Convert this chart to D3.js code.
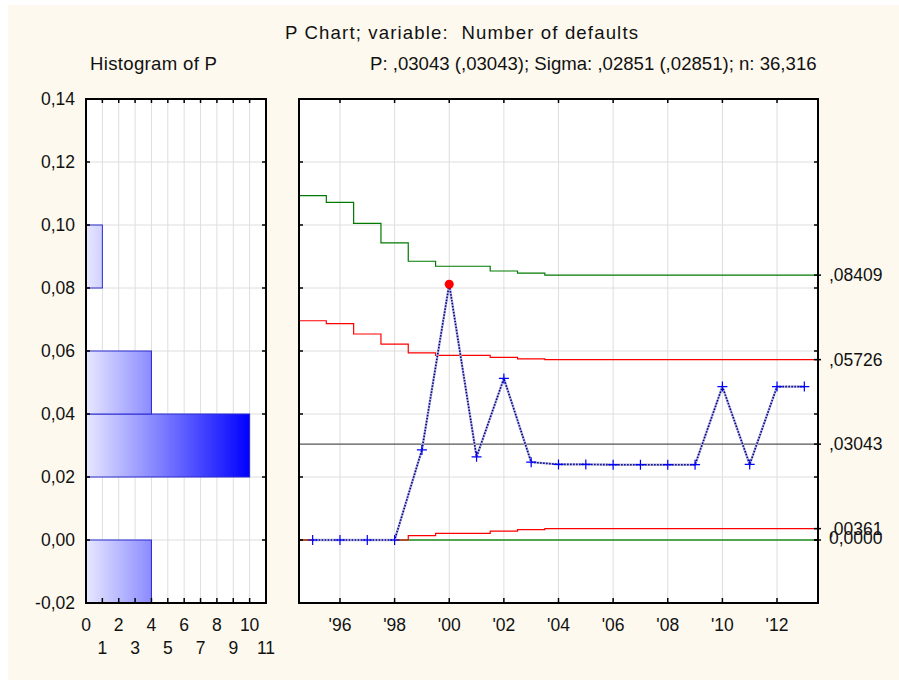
<!DOCTYPE html>
<html>
<head>
<meta charset="utf-8">
<script src="https://cdn.jsdelivr.net/npm/d3@7"></script>
<style>
  html, body { margin: 0; padding: 0; background: #fff; }
  svg { display: block; }
  text { font-family: "Liberation Sans", Arial, sans-serif; fill: #111; white-space: pre; }
</style>
</head>
<body>
<svg id="chart" width="899" height="680"></svg>
<script>
// data
const years = [1995, 1996, 1997, 1998, 1999, 2000, 2001, 2002, 2003, 2004,
  2005, 2006, 2007, 2008, 2009, 2010, 2011, 2012, 2013];
const pValues = [0, 0, 0, 0, 0.0286, 0.0812, 0.0264, 0.0513, 0.0247, 0.0240,
  0.0240, 0.0239, 0.0239, 0.0239, 0.0239, 0.0487, 0.0240, 0.0487, 0.0487];
const ucl3 = [0.1093, 0.1072, 0.1005, 0.0943, 0.0885, 0.0869, 0.0869, 0.0854, 0.0847, 0.08409,
  0.08409, 0.08409, 0.08409, 0.08409, 0.08409, 0.08409, 0.08409, 0.08409, 0.08409];
const ucl2 = [0.0696, 0.0687, 0.0654, 0.0622, 0.0594, 0.0586, 0.0586, 0.0580, 0.0575, 0.05726,
  0.05726, 0.05726, 0.05726, 0.05726, 0.05726, 0.05726, 0.05726, 0.05726, 0.05726];
const lcl2 = [0, 0, 0, 0, 0.0014, 0.0021, 0.0021, 0.0028, 0.0033, 0.00361,
  0.00361, 0.00361, 0.00361, 0.00361, 0.00361, 0.00361, 0.00361, 0.00361, 0.00361];
const lcl3 = [0, 0, 0, 0, 0, 0, 0, 0, 0, 0, 0, 0, 0, 0, 0, 0, 0, 0, 0];
const centerP = 0.03043;
const outOfControl = [2000];

const limitValues = [0.08409, 0.05726, 0.03043, 0.00361, 0];
const limitLabels = [",08409", ",05726", ",03043", ",00361", "0,0000"];

const histLow = [-0.02, 0.00, 0.02, 0.04, 0.06, 0.08];
const histHigh = [0.00, 0.02, 0.04, 0.06, 0.08, 0.10];
const histCounts = [4, 0, 10, 4, 0, 1];

const yTicks = [-0.02, 0, 0.02, 0.04, 0.06, 0.08, 0.10, 0.12, 0.14];
const histTicks = [0, 1, 2, 3, 4, 5, 6, 7, 8, 9, 10, 11];
const yearTicks = [1996, 1998, 2000, 2002, 2004, 2006, 2008, 2010, 2012];

const titleText = "P Chart; variable:  Number of defaults";
const histTitle = "Histogram of P";
const statsText = "P: ,03043 (,03043); Sigma: ,02851 (,02851); n: 36,316";

const svg = d3.select("#chart");
const fontTick = 17.5;
const fontHead = 18.6;

const hist = { left: 86, right: 266, top: 99, bottom: 603 };
const main = { left: 299, right: 818, top: 99, bottom: 603 };

const loc = d3.formatLocale({ decimal: ",", thousands: ".", grouping: [3], currency: ["", ""], minus: "-" });
const fmtY = loc.format(".2f");

svg.append("rect")
  .attr("x", 8).attr("y", 5)
  .attr("width", 891).attr("height", 675)
  .attr("fill", "#fdf9ee");

const y = d3.scaleLinear().domain([-0.02, 0.14]).range([hist.bottom, hist.top]);
const xh = d3.scaleLinear().domain([0, 11]).range([hist.left, hist.right]);
const x = d3.scaleLinear().domain([1994.5, 2013.5]).range([main.left, main.right]);

// titles
svg.append("text")
  .attr("x", 285).attr("y", 39)
  .attr("textLength", 353)
  .attr("lengthAdjust", "spacing")
  .style("font-size", fontHead + "px")
  .text(titleText);

svg.append("text")
  .attr("x", 90).attr("y", 70)
  .attr("textLength", 127)
  .attr("lengthAdjust", "spacing")
  .style("font-size", fontHead + "px")
  .text(histTitle);

svg.append("text")
  .attr("x", 370).attr("y", 70)
  .style("font-size", fontHead + "px")
  .text(statsText);

// ---------- histogram panel ----------
const gh = svg.append("g");

gh.append("rect")
  .attr("x", hist.left).attr("y", hist.top)
  .attr("width", hist.right - hist.left).attr("height", hist.bottom - hist.top)
  .attr("fill", "#fff");

gh.selectAll(".vgrid")
  .data(histTicks.filter(d => d > 0 && d < 11))
  .join("line")
  .attr("x1", d => xh(d)).attr("x2", d => xh(d))
  .attr("y1", hist.top).attr("y2", hist.bottom)
  .attr("stroke", "#dedede");

gh.selectAll(".hgrid")
  .data(yTicks.slice(1, -1))
  .join("line")
  .attr("x1", hist.left).attr("x2", hist.right)
  .attr("y1", d => y(d)).attr("y2", d => y(d))
  .attr("stroke", "#dedede");

const defs = svg.append("defs");
const grad = defs.append("linearGradient")
  .attr("id", "barGrad")
  .attr("gradientUnits", "userSpaceOnUse")
  .attr("x1", xh(0)).attr("x2", xh(d3.max(histCounts)))
  .attr("y1", 0).attr("y2", 0);
grad.append("stop").attr("offset", 0).attr("stop-color", "#e8e8ff");
grad.append("stop").attr("offset", 1).attr("stop-color", "#0000ff");

const bins = histLow.map((lo, i) => ({ lo, hi: histHigh[i], n: histCounts[i] }))
  .filter(d => d.n > 0);

gh.selectAll(".bar")
  .data(bins)
  .join("rect")
  .attr("x", xh(0))
  .attr("y", d => y(d.hi))
  .attr("width", d => xh(d.n) - xh(0))
  .attr("height", d => y(d.lo) - y(d.hi))
  .attr("fill", "url(#barGrad)")
  .attr("stroke", "#2a2ad0")
  .attr("stroke-width", 1);

// ticks
gh.selectAll(".tb")
  .data(histTicks)
  .join("line")
  .attr("x1", d => xh(d)).attr("x2", d => xh(d))
  .attr("y1", hist.bottom).attr("y2", hist.bottom - 5)
  .attr("stroke", "#000").attr("stroke-width", 1.5);

gh.selectAll(".tt")
  .data(histTicks)
  .join("line")
  .attr("x1", d => xh(d)).attr("x2", d => xh(d))
  .attr("y1", hist.top).attr("y2", hist.top + 4)
  .attr("stroke", "#000").attr("stroke-width", 1.5);

gh.selectAll(".tl")
  .data(yTicks)
  .join("line")
  .attr("x1", hist.left).attr("x2", hist.left + 4)
  .attr("y1", d => y(d)).attr("y2", d => y(d))
  .attr("stroke", "#000").attr("stroke-width", 1.5);

gh.selectAll(".tr")
  .data(yTicks)
  .join("line")
  .attr("x1", hist.right - 4).attr("x2", hist.right)
  .attr("y1", d => y(d)).attr("y2", d => y(d))
  .attr("stroke", "#000").attr("stroke-width", 1.5);

gh.append("rect")
  .attr("x", hist.left).attr("y", hist.top)
  .attr("width", hist.right - hist.left).attr("height", hist.bottom - hist.top)
  .attr("fill", "none")
  .attr("stroke", "#000").attr("stroke-width", 2);

gh.selectAll(".ylab")
  .data(yTicks)
  .join("text")
  .attr("x", hist.left - 11)
  .attr("y", d => y(d))
  .attr("dy", "0.35em")
  .attr("text-anchor", "end")
  .style("font-size", fontTick + "px")
  .text(d => fmtY(d));

gh.selectAll(".xlab")
  .data(histTicks)
  .join("text")
  .attr("x", d => xh(d))
  .attr("y", d => d % 2 === 0 ? 631 : 654)
  .attr("text-anchor", "middle")
  .style("font-size", fontTick + "px")
  .text(d => d);

// ---------- P chart panel ----------
const gm = svg.append("g");

defs.append("clipPath").attr("id", "mainClip")
  .append("rect")
  .attr("x", main.left).attr("y", main.top)
  .attr("width", main.right - main.left).attr("height", main.bottom - main.top);

gm.append("rect")
  .attr("x", main.left).attr("y", main.top)
  .attr("width", main.right - main.left).attr("height", main.bottom - main.top)
  .attr("fill", "#fff");

gm.selectAll(".vgrid")
  .data(yearTicks)
  .join("line")
  .attr("x1", d => x(d)).attr("x2", d => x(d))
  .attr("y1", main.top).attr("y2", main.bottom)
  .attr("stroke", "#dedede");

gm.selectAll(".hgrid")
  .data(yTicks.slice(1, -1))
  .join("line")
  .attr("x1", main.left).attr("x2", main.right)
  .attr("y1", d => y(d)).attr("y2", d => y(d))
  .attr("stroke", "#dedede");

const plot = gm.append("g").attr("clip-path", "url(#mainClip)");

// step lines for limits: each year's value holds from year-0.5 to year+0.5
const stepLine = d3.line()
  .x(d => x(d[0]))
  .y(d => y(d[1]))
  .curve(d3.curveStepAfter);

const stepPoints = vals => {
  const pts = years.map((yr, i) => [yr - 0.5, vals[i]]);
  pts.push([years[years.length - 1] + 0.5, vals[vals.length - 1]]);
  return pts;
};

plot.append("path")
  .attr("d", stepLine(stepPoints(lcl3)))
  .attr("fill", "none").attr("stroke", "#1e8c1e").attr("stroke-width", 1.4);

plot.append("path")
  .attr("d", stepLine(stepPoints(ucl3)))
  .attr("fill", "none").attr("stroke", "#007a00").attr("stroke-width", 1.2);

plot.append("path")
  .attr("d", stepLine(stepPoints(ucl2)))
  .attr("fill", "none").attr("stroke", "#ff0000").attr("stroke-width", 1.2);

plot.append("path")
  .attr("d", stepLine(stepPoints(lcl2)))
  .attr("fill", "none").attr("stroke", "#ff0000").attr("stroke-width", 1.2);

plot.append("line")
  .attr("x1", main.left).attr("x2", main.right)
  .attr("y1", y(centerP)).attr("y2", y(centerP))
  .attr("stroke", "#555").attr("stroke-width", 1.3);

// data series
const pts = years.map((yr, i) => ({ yr, p: pValues[i] }));
const dataLine = d3.line().x(d => x(d.yr)).y(d => y(d.p));

plot.append("path")
  .attr("d", dataLine(pts))
  .attr("fill", "none").attr("stroke", "#b4b4dc").attr("stroke-width", 2.4);

plot.append("path")
  .attr("d", dataLine(pts))
  .attr("fill", "none").attr("stroke", "#00008b").attr("stroke-width", 1.6)
  .attr("stroke-dasharray", "1.5,1.5");

const inCtrl = pts.filter(d => !outOfControl.includes(d.yr));
const outCtrl = pts.filter(d => outOfControl.includes(d.yr));

plot.selectAll(".plus")
  .data(inCtrl)
  .join("path")
  .attr("d", d => `M${x(d.yr) - 5},${y(d.p)}h10M${x(d.yr)},${y(d.p) - 5}v10`)
  .attr("stroke", "#0000ff").attr("stroke-width", 1.2).attr("fill", "none");

plot.selectAll(".dot")
  .data(outCtrl)
  .join("circle")
  .attr("cx", d => x(d.yr)).attr("cy", d => y(d.p))
  .attr("r", 4.5)
  .attr("fill", "#ff0000");

// axis ticks
gm.selectAll(".tb")
  .data(yearTicks)
  .join("line")
  .attr("x1", d => x(d)).attr("x2", d => x(d))
  .attr("y1", main.bottom).attr("y2", main.bottom - 5)
  .attr("stroke", "#000").attr("stroke-width", 1.5);

gm.selectAll(".tt")
  .data(yearTicks)
  .join("line")
  .attr("x1", d => x(d)).attr("x2", d => x(d))
  .attr("y1", main.top).attr("y2", main.top + 4)
  .attr("stroke", "#000").attr("stroke-width", 1.5);

gm.selectAll(".tl")
  .data(yTicks)
  .join("line")
  .attr("x1", main.left).attr("x2", main.left + 4)
  .attr("y1", d => y(d)).attr("y2", d => y(d))
  .attr("stroke", "#000").attr("stroke-width", 1.5);

gm.selectAll(".tr")
  .data(yTicks)
  .join("line")
  .attr("x1", main.right - 4).attr("x2", main.right)
  .attr("y1", d => y(d)).attr("y2", d => y(d))
  .attr("stroke", "#000").attr("stroke-width", 1.5);

gm.selectAll(".tlim")
  .data(limitValues)
  .join("line")
  .attr("x1", main.right - 4).attr("x2", main.right + 3)
  .attr("y1", d => y(d)).attr("y2", d => y(d))
  .attr("stroke", "#000").attr("stroke-width", 1.5);

gm.append("rect")
  .attr("x", main.left).attr("y", main.top)
  .attr("width", main.right - main.left).attr("height", main.bottom - main.top)
  .attr("fill", "none")
  .attr("stroke", "#000").attr("stroke-width", 2);

gm.selectAll(".xlab")
  .data(yearTicks)
  .join("text")
  .attr("x", d => x(d))
  .attr("y", 631)
  .attr("text-anchor", "middle")
  .style("font-size", fontTick + "px")
  .text(d => "'" + String(d).slice(2));

gm.selectAll(".limlab")
  .data(limitValues)
  .join("text")
  .attr("x", main.right + 11)
  .attr("y", d => y(d))
  .attr("dy", (d, i) => i === 4 ? "0.2em" : "0.35em")
  .style("font-size", fontTick + "px")
  .text((d, i) => limitLabels[i]);
</script>
</body>
</html>
